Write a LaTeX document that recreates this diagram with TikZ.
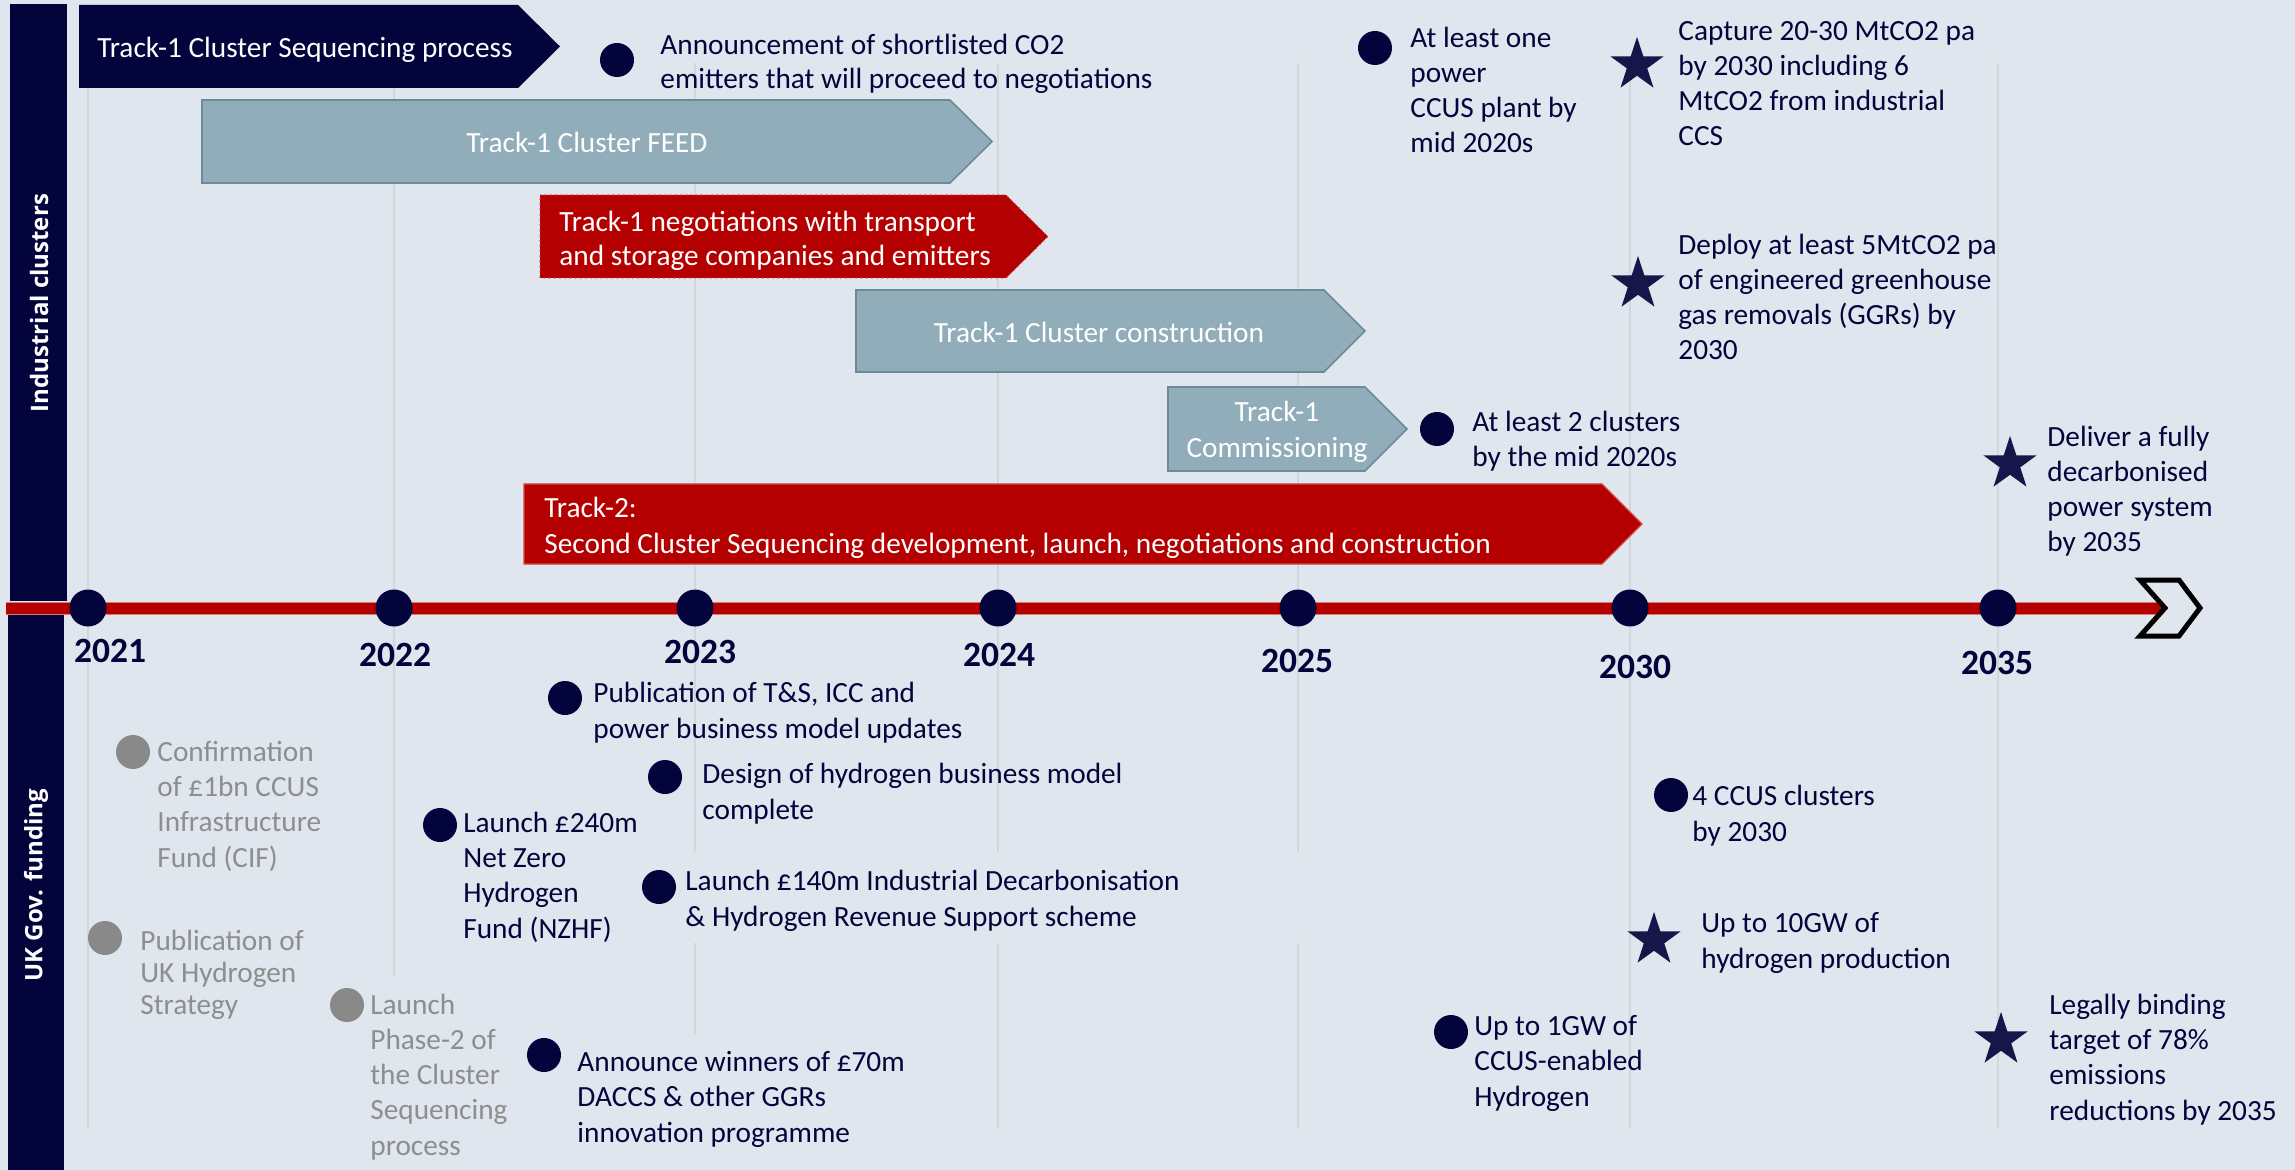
\documentclass[tikz,border=0pt]{standalone}
\usepackage{fontspec}
\setmainfont{Carlito}
\newfontfamily\sidefont{Open Sans}
\usetikzlibrary{shapes.geometric}
\definecolor{bg}{HTML}{DFE6EE}
\definecolor{navy}{HTML}{04043D}
\definecolor{starnavy}{HTML}{16164A}
\definecolor{tred}{HTML}{B40000}
\definecolor{tredge}{HTML}{D04848}
\definecolor{tredline}{HTML}{D67A7A}
\definecolor{steel}{HTML}{91ADB9}
\definecolor{steeledge}{HTML}{6C8B99}
\definecolor{greyd}{HTML}{898989}
\definecolor{greyt}{HTML}{8E8E8E}
\definecolor{gridc}{HTML}{D3D7DB}
\newcommand\evfont{\fontsize{14.65pt}{17.6pt}\selectfont}
\newcommand\yrfont{\fontsize{17.75pt}{20pt}\selectfont\bfseries}
\begin{document}
\begin{tikzpicture}[x=0.5pt,y=-0.5pt,
  evtext/.style={anchor=base west, align=left, inner sep=0, text=navy, font=\evfont},
  greytext/.style={evtext, text=greyt},
  wtext/.style={inner sep=0, text=white, font=\evfont},
  dot/.style={circle, fill=navy, minimum size=17pt, inner sep=0},
  greydot/.style={dot, fill=greyd},
  tdot/.style={circle, fill=navy, minimum size=18.5pt, inner sep=0},
  starm/.style={star, star points=5, star point ratio=2.6, fill=starnavy, minimum size=28pt, inner sep=0},
  year/.style={font=\yrfont, text=navy, inner sep=0},
  gridline/.style={draw=gridc, line width=1pt},
  sidebar/.style={fill=navy},
  sidetext/.style={rotate=90, text=white, inner sep=0, font=\sidefont\bfseries\fontsize{12pt}{14pt}\selectfont},
  navyarrow/.style={fill=navy},
  steelarrow/.style={fill=steel, draw=steeledge, line width=0.8pt},
  redarrow/.style={fill=tred, draw=tredge, line width=0.6pt, dotted},
  redarrowb/.style={fill=tred, draw=tredge, line width=0.6pt}
]
\fill[bg] (0,0) rectangle (2295,1170);
\useasboundingbox (0,0) rectangle (2295,1170);

% grid lines
\draw[gridline] (88,63) -- (88,1128);
\draw[gridline] (394,63) -- (394,976);
\draw[gridline] (695,63) -- (695,852) (695,943) -- (695,1035);
\draw[gridline] (998,63) -- (998,852) (998,943) -- (998,1128);
\draw[gridline] (1298,63) -- (1298,852) (1298,943) -- (1298,1128);
\draw[gridline] (1630,63) -- (1630,1128);
\draw[gridline] (1998,63) -- (1998,1128);

% side bars
\fill[sidebar] (10,4) rectangle (67,601);
\fill[sidebar] (8,615) rectangle (64,1170);
\node[sidetext] (ic) at (39,303) {Industrial clusters};
\node[sidetext] (ukg) at (36,885) {UK Gov. funding};

% timeline
\draw[tredline, line width=6.5pt] (6,608) -- (2165,608);
\draw[tred, line width=5.5pt] (6,608) -- (2165,608);
\filldraw[fill=bg, draw=black, line width=2.5pt, line join=miter]
  (2140,580) -- (2179,580) -- (2200,608) -- (2179,636) -- (2140,636) -- (2165,608) -- cycle;

\node[tdot] (y21) at (88,608) {};
\node[tdot] (y22) at (394,608) {};
\node[tdot] (y23) at (695,608) {};
\node[tdot] (y24) at (998,608) {};
\node[tdot] (y25) at (1298,608) {};
\node[tdot] (y30) at (1630,608) {};
\node[tdot] (y35) at (1998,608) {};

\node[year] (l21) at (110,651) {2021};
\node[year] (l22) at (395,655) {2022};
\node[year] (l23) at (700,652) {2023};
\node[year] (l24) at (999,655) {2024};
\node[year] (l25) at (1297,661) {2025};
\node[year] (l30) at (1635,667) {2030};
\node[year] (l35) at (1997,663) {2035};

% arrows
\fill[navyarrow] (79,5) -- (518,5) -- (560,46.5) -- (518,88) -- (79,88) -- cycle;
\node[wtext, anchor=base west] (a1) at (97,58) {Track-1 Cluster Sequencing process};

\filldraw[steelarrow] (202,100) -- (950,100) -- (992,141.5) -- (950,183) -- (202,183) -- cycle;
\node[wtext, anchor=base] (a2) at (587,153) {Track-1 Cluster FEED};

\filldraw[redarrow] (540,195) -- (1006,195) -- (1048,236.5) -- (1006,278) -- (540,278) -- cycle;
\node[wtext, anchor=base west, align=left, font=\fontsize{14.65pt}{17pt}\selectfont] (a3) at (559,266) {Track-1 negotiations with transport\\and storage companies and emitters};

\filldraw[steelarrow] (856,290) -- (1324,290) -- (1365,331) -- (1324,372) -- (856,372) -- cycle;
\node[wtext, anchor=base] (a4) at (1099,343) {Track-1 Cluster construction};

\filldraw[steelarrow] (1168,387) -- (1365,387) -- (1407,429) -- (1365,471) -- (1168,471) -- cycle;
\node[wtext, anchor=base, align=center, font=\fontsize{14.65pt}{18pt}\selectfont] (a5) at (1277,458) {Track-1\\Commissioning};

\filldraw[redarrowb] (524,484) -- (1602,484) -- (1642,524) -- (1602,564) -- (524,564) -- cycle;
\node[wtext, anchor=base west, align=left] (a6) at (544,553) {Track-2:\\Second Cluster Sequencing development, launch, negotiations and construction};

% upper events
\node[dot] (d1) at (617,60) {};
\node[evtext, font=\fontsize{14.65pt}{17pt}\selectfont] (t1) at (660,89) {Announcement of shortlisted CO2\\emitters that will proceed to negotiations};

\node[dot] (d2) at (1375,48) {};
\node[evtext] (t2) at (1410,153) {At least one\\power\\CCUS plant by\\mid 2020s};

\node[starm] (s1) at (1637,65) {};
\node[evtext] (t3) at (1678,146) {Capture 20-30 MtCO2 pa\\by 2030 including 6\\MtCO2 from industrial\\CCS};

\node[starm] (s2) at (1638,284) {};
\node[evtext] (t4) at (1678,360) {Deploy at least 5MtCO2 pa\\of engineered greenhouse\\gas removals (GGRs) by\\2030};

\node[dot] (d3) at (1437,429) {};
\node[evtext] (t5) at (1472,467) {At least 2 clusters\\by the mid 2020s};

\node[starm] (s3) at (2010,464) {};
\node[evtext] (t6) at (2047,552) {Deliver a fully\\decarbonised\\power system\\by 2035};

% lower events
\node[greydot] (d4) at (133,752) {};
\node[greytext] (t7) at (157,867) {Confirmation\\of £1bn CCUS\\Infrastructure\\Fund (CIF)};

\node[greydot] (d5) at (105,938) {};
\node[greytext, font=\fontsize{14.65pt}{16pt}\selectfont] (t8) at (140,1014) {Publication of\\UK Hydrogen\\Strategy};

\node[greydot] (d6) at (347,1005) {};
\node[greytext] (t9) at (370,1155) {Launch\\Phase-2 of\\the Cluster\\Sequencing\\process};

\node[dot] (d7) at (440,825) {};
\node[evtext] (t10) at (463,938) {Launch £240m\\Net Zero\\Hydrogen\\Fund (NZHF)};

\node[dot] (d8) at (565,698) {};
\node[evtext] (t11) at (593,738) {Publication of T\&S, ICC and\\power business model updates};

\node[dot] (d9) at (665,777) {};
\node[evtext] (t12) at (702,819) {Design of hydrogen business model\\complete};

\node[dot] (d10) at (659,887) {};
\node[evtext] (t13) at (685,926) {Launch £140m Industrial Decarbonisation\\\& Hydrogen Revenue Support scheme};

\node[dot] (d11) at (544,1055) {};
\node[evtext] (t14) at (577,1142) {Announce winners of £70m\\DACCS \& other GGRs\\innovation programme};

\node[dot] (d12) at (1671,795) {};
\node[evtext] (t15) at (1692,841) {4 CCUS clusters\\by 2030};

\node[starm] (s4) at (1654,940) {};
\node[evtext] (t16) at (1701,968) {Up to 10GW of\\hydrogen production};

\node[dot] (d13) at (1451,1032) {};
\node[evtext] (t17) at (1474,1106) {Up to 1GW of\\CCUS-enabled\\Hydrogen};

\node[starm] (s5) at (2001,1040) {};
\node[evtext] (t18) at (2049,1120) {Legally binding\\target of 78\%\\emissions\\reductions by 2035};
\end{tikzpicture}
\end{document}
